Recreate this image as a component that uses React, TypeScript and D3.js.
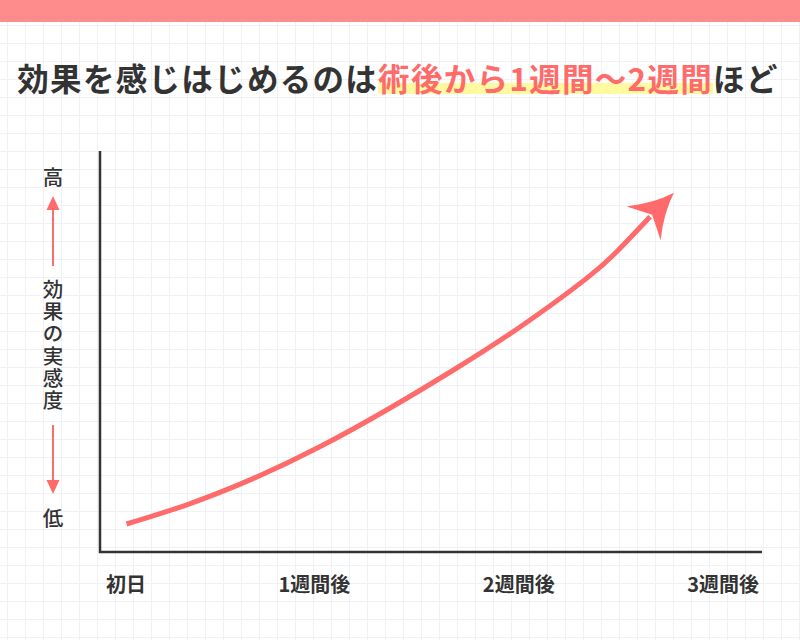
import { useEffect, useRef } from 'react'
import * as d3 from 'd3'

// curve: progress (% of plot width) vs effect (% of plot height)
const progress = [4, 13.1, 23.2, 33.2, 43.3, 53.4, 63.4, 73.5, 78.5, 83.1, 86.7]
const effect = [7, 11.8, 18.4, 26.3, 35.5, 45.5, 56.2, 68.4, 75.8, 83.8, 89.8]

const xTickLabels = ['初日', '1週間後', '2週間後', '3週間後']
const yTopLabel = '高'
const yBottomLabel = '低'
const yAxisTitle = '効果の実感度'

const titleHead = '効果を感じはじめるのは'
const titleMark = '術後から1週間～2週間'
const titleTail = 'ほど'

const RED = '#ff6b6b'
const INK = '#333333'
const FONT = '"Noto Sans CJK JP", "Noto Sans", sans-serif'

export default function App() {
  const svgRef = useRef<SVGSVGElement>(null)

  useEffect(() => {
    if (!svgRef.current) return
    document.body.style.margin = '0'

    const W = 800
    const H = 640
    const svg = d3.select(svgRef.current)
    svg.selectAll('*').remove()

    svg.append('rect').attr('width', W).attr('height', H).attr('fill', '#ffffff')

    // background grid
    const grid = svg.append('g').attr('stroke', '#eff1f5').attr('stroke-width', 1)
    d3.range(7.5, W, 18).forEach(x => {
      grid.append('line').attr('x1', x).attr('x2', x).attr('y1', 0).attr('y2', H)
    })
    d3.range(7.5, H, 18).forEach(y => {
      grid.append('line').attr('x1', 0).attr('x2', W).attr('y1', y).attr('y2', y)
    })

    // top band
    svg.append('rect').attr('width', W).attr('height', 22).attr('fill', '#ff8c8c')

    // title
    const title = svg
      .append('text')
      .attr('x', W / 2 - 2)
      .attr('y', 77)
      .attr('text-anchor', 'middle')
      .attr('dominant-baseline', 'central')
      .attr('font-family', FONT)
      .attr('font-weight', 700)
      .attr('font-size', 31.5)
      .attr('letter-spacing', 1.3)
      .attr('fill', INK)
    title.append('tspan').text(titleHead)
    title.append('tspan').attr('fill', RED).text(titleMark)
    title.append('tspan').text(titleTail)

    const tNode = title.node() as SVGTextElement
    const s = titleHead.length
    const e = s + titleMark.length - 1
    const x0 = tNode.getStartPositionOfChar(s).x
    const x1 = tNode.getEndPositionOfChar(e).x
    svg
      .insert('rect', 'text')
      .attr('x', x0)
      .attr('y', 83)
      .attr('width', x1 - x0)
      .attr('height', 11)
      .attr('fill', '#fffaa0')

    // plot
    const margin = { left: 100, right: 38, top: 152, bottom: 88 }
    const x = d3.scaleLinear().domain([0, 100]).range([margin.left, W - margin.right])
    const y = d3.scaleLinear().domain([0, 100]).range([H - margin.bottom, margin.top])

    svg
      .append('path')
      .attr('d', `M${x(0)},${y(100) - 1}V${y(0)}H${x(100)}`)
      .attr('fill', 'none')
      .attr('stroke', INK)
      .attr('stroke-width', 2.5)

    const xl = d3.scalePoint<string>().domain(xTickLabels).range([146, 759])
    svg
      .append('g')
      .selectAll('text')
      .data(xTickLabels)
      .join('text')
      .attr('x', d => xl(d) as number)
      .attr('y', 583)
      .attr('text-anchor', 'end')
      .attr('dominant-baseline', 'central')
      .attr('font-family', FONT)
      .attr('font-weight', 700)
      .attr('font-size', 20)
      .attr('fill', INK)
      .text(d => d)

    // y axis labels and arrows
    const lx = 53
    const yText = svg
      .append('g')
      .attr('font-family', FONT)
      .attr('font-weight', 500)
      .attr('font-size', 20.5)
      .attr('fill', INK)
      .attr('text-anchor', 'middle')
      .attr('dominant-baseline', 'central')
    yText.append('text').attr('x', lx).attr('y', 176).text(yTopLabel)
    yText.append('text').attr('x', lx).attr('y', 517).text(yBottomLabel)
    Array.from(yAxisTitle).forEach((c, i) => {
      yText.append('text').attr('x', lx).attr('y', 288 + i * 22.2).text(c)
    })

    const arrows = svg.append('g').attr('fill', RED).attr('stroke', RED)
    arrows.append('line').attr('x1', lx).attr('x2', lx).attr('y1', 266).attr('y2', 208).attr('stroke-width', 2)
    arrows.append('path').attr('stroke', 'none').attr('d', `M${lx},196L${lx - 6.5},210L${lx + 6.5},210Z`)
    arrows.append('line').attr('x1', lx).attr('x2', lx).attr('y1', 425).attr('y2', 482).attr('stroke-width', 2)
    arrows.append('path').attr('stroke', 'none').attr('d', `M${lx},494L${lx - 6.5},480L${lx + 6.5},480Z`)

    // curve
    const pts: [number, number][] = progress.map((p, i) => [x(p), y(effect[i])])
    const n = pts.length
    const line = d3.line().curve(d3.curveNatural)
    svg
      .append('path')
      .attr('d', line(pts.slice(0, n - 1)))
      .attr('fill', 'none')
      .attr('stroke', RED)
      .attr('stroke-width', 5)

    // arrow head at the end of the curve
    const [tx, ty] = pts[n - 1]
    const [bx, by] = pts[n - 2]
    const len = Math.hypot(tx - bx, ty - by)
    const ux = (tx - bx) / len
    const uy = (ty - by) / len
    const P = (a: number, b: number) => `${tx + ux * a - uy * b},${ty + uy * a + ux * b}`
    svg
      .append('path')
      .attr('fill', RED)
      .attr(
        'd',
        `M${P(0, 0)}Q${P(-22, -7)} ${P(-43, -24)}L${P(-31, 0)}L${P(-43, 24)}Q${P(-22, 7)} ${P(0, 0)}Z`
      )
  }, [])

  return <svg ref={svgRef} width={800} height={640} style={{ display: 'block' }} />
}
